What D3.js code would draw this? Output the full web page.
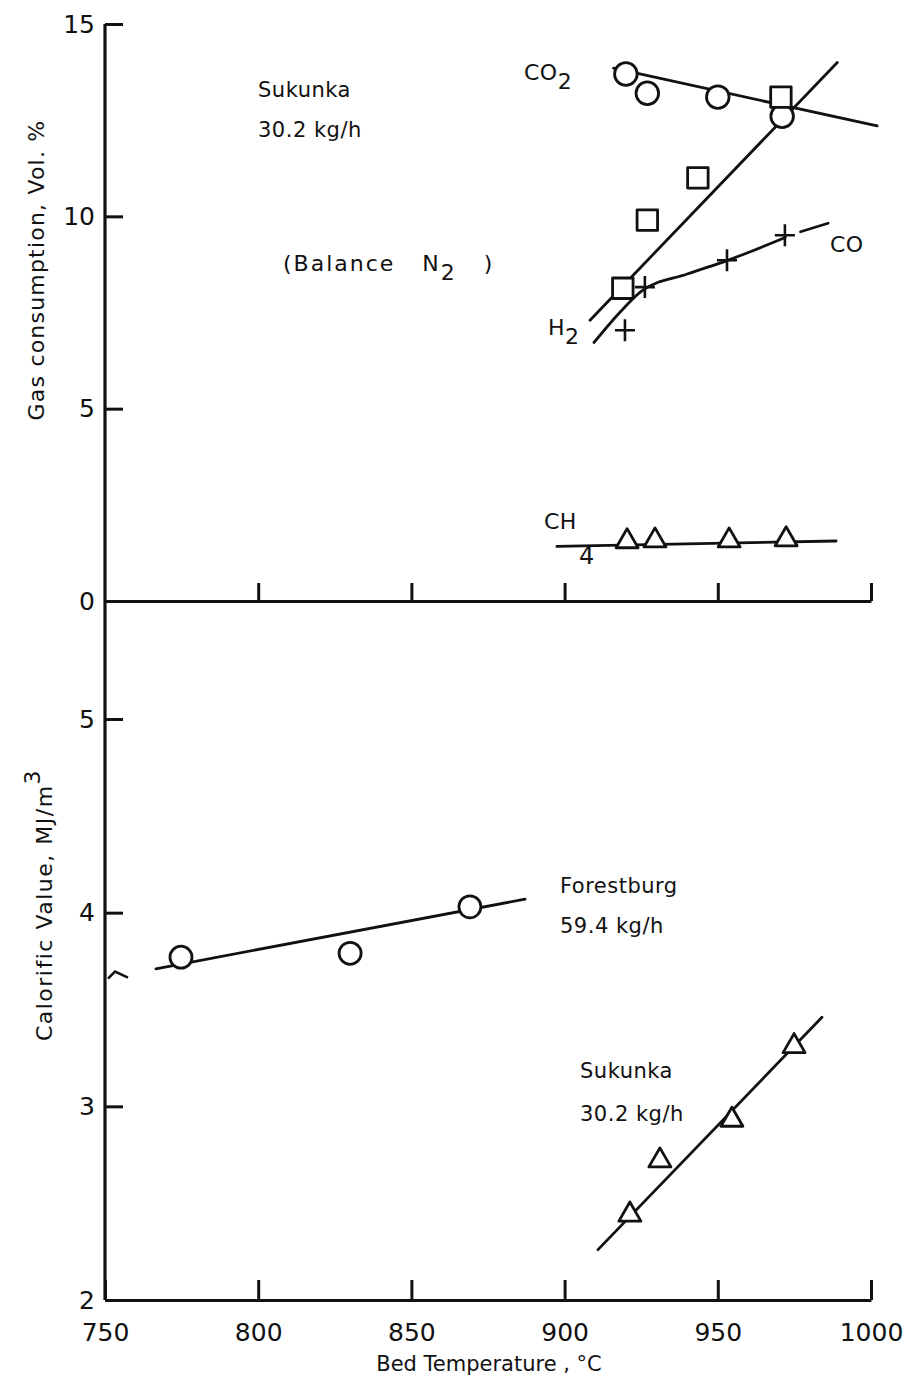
<!DOCTYPE html>
<html>
<head>
<meta charset="utf-8">
<script src="https://cdn.jsdelivr.net/npm/d3@7"></script>
<style>
  body { margin: 0; background: #fff; }
  text { font-family: "DejaVu Sans", sans-serif; fill: #111; }
</style>
</head>
<body>
<script>
// ---- data ----
// top panel: gas composition, vol.% vs bed temperature (Sukunka 30.2 kg/h)
var co2Points = [[920, 13.7], [927, 13.2], [950, 13.1], [971, 12.6]];
var co2Fit = [[916, 13.85], [1002, 12.35]];
var h2Points = [[919, 8.13], [927, 9.9], [943.5, 11.0], [970.6, 13.1]];
var h2Fit = [[908.3, 7.3], [989, 14.0]];
var coPoints = [[919.7, 7.04], [926.2, 8.16], [953, 8.86], [971.9, 9.51]];
var coFit = [[909.6, 6.72], [918, 7.5], [925, 8.05], [940, 8.5], [953, 8.85], [972, 9.45]];
var coFitTail = [[977, 9.6], [986, 9.82]];
var ch4Points = [[920.4, 1.55], [929.5, 1.57], [953.7, 1.57], [972.3, 1.6]];
var ch4Fit = [[897.5, 1.42], [988.6, 1.56]];

// bottom panel: calorific value MJ/m3
var forestPoints = [[774.8, 3.77], [830, 3.79], [869.1, 4.03]];
var forestFit = [[766.6, 3.71], [887.1, 4.07]];
var sukPoints = [[921.3, 2.44], [931.1, 2.72], [954.6, 2.93], [974.9, 3.31]];
var sukFit = [[910.9, 2.26], [984, 3.46]];

var xTicks = [750, 800, 850, 900, 950, 1000];
var topYTicks = [5, 10, 15];
var botYTicks = [2, 3, 4, 5];

var width = 915, height = 1380;

var svg = d3.select("body").append("svg")
  .attr("width", width)
  .attr("height", height);

// scales
var x = d3.scaleLinear().domain([750, 1000]).range([105, 871]);
var yTop = d3.scaleLinear().domain([0, 15]).range([601, 24]);
var yBot = d3.scaleLinear().domain([2, 5]).range([1300, 719]);

var ink = "#111";
var fmt = d3.format("d");

// main vertical axis through both panels
svg.append("line")
  .attr("x1", x(750)).attr("x2", x(750))
  .attr("y1", yTop(15)).attr("y2", yBot(2))
  .attr("stroke", ink).attr("stroke-width", 3.2);

// top panel y axis ticks
var topAxis = svg.append("g")
  .attr("transform", "translate(" + x(750) + ",0)")
  .call(d3.axisLeft(yTop).tickValues(topYTicks).tickFormat(fmt).tickSize(-18).tickSizeOuter(0).tickPadding(10));
// bottom panel y axis ticks
var botAxis = svg.append("g")
  .attr("transform", "translate(" + x(750) + ",0)")
  .call(d3.axisLeft(yBot).tickValues(botYTicks).tickFormat(fmt).tickSize(-18).tickSizeOuter(0).tickPadding(10));

// zero line of top panel, ticks pointing up
var zeroAxis = svg.append("g")
  .attr("transform", "translate(0," + yTop(0) + ")")
  .call(d3.axisBottom(x).tickValues([800, 850, 900, 950, 1000]).tickSize(-18).tickSizeOuter(0).tickFormat(""));

// bottom x axis
var xAxis = svg.append("g")
  .attr("transform", "translate(0," + yBot(2) + ")")
  .call(d3.axisBottom(x).tickValues(xTicks).tickFormat(fmt).tickSize(-20).tickSizeOuter(0).tickPadding(31));

[topAxis, botAxis, zeroAxis, xAxis].forEach(function(g) {
  g.select(".domain").attr("stroke", ink).attr("stroke-width", 3.2);
  g.selectAll(".tick line").attr("stroke", ink).attr("stroke-width", 3);
  g.selectAll(".tick text")
    .style("font-family", "DejaVu Sans, sans-serif")
    .style("font-size", "25px")
    .attr("fill", ink);
});
topAxis.select(".domain").remove();
botAxis.select(".domain").remove();
xAxis.selectAll(".tick text").attr("dy", "0.4em");
// 0 label of the top panel
svg.append("text")
  .attr("x", x(750) - 10).attr("y", yTop(0) + 9)
  .attr("text-anchor", "end")
  .style("font-size", "25px")
  .text("0");

// axis break mark on the lower axis
svg.append("path")
  .attr("d", "M" + (x(750) + 3) + "," + (yBot(3.66)) +
             " L" + (x(750) + 10) + "," + (yBot(3.66) - 7) +
             " L" + (x(750) + 23) + "," + (yBot(3.66) - 1))
  .attr("fill", "none").attr("stroke", ink).attr("stroke-width", 2.5);

// line generators
var lineTop = d3.line().x(function(d) { return x(d[0]); }).y(function(d) { return yTop(d[1]); });
var curveTop = d3.line().curve(d3.curveMonotoneX)
  .x(function(d) { return x(d[0]); }).y(function(d) { return yTop(d[1]); });
var lineBot = d3.line().x(function(d) { return x(d[0]); }).y(function(d) { return yBot(d[1]); });

function fitLine(data, gen) {
  svg.append("path")
    .attr("d", gen(data))
    .attr("fill", "none")
    .attr("stroke", ink)
    .attr("stroke-width", 2.8)
    .attr("stroke-linecap", "round");
}

fitLine(co2Fit, lineTop);
fitLine(h2Fit, lineTop);
fitLine(coFit, curveTop);
fitLine(coFitTail, lineTop);
fitLine(ch4Fit, lineTop);
fitLine(forestFit, lineBot);
fitLine(sukFit, lineBot);

// markers
function markers(data, yScale, type, size) {
  svg.selectAll(null)
    .data(data)
    .enter()
    .append("path")
    .attr("transform", function(d) { return "translate(" + x(d[0]) + "," + yScale(d[1]) + ")"; })
    .attr("d", d3.symbol().type(type).size(size))
    .attr("fill", "#fff")
    .attr("stroke", ink)
    .attr("stroke-width", 2.8)
    .attr("stroke-linejoin", "round");
}

markers(co2Points, yTop, d3.symbolCircle, 400);
markers(h2Points, yTop, d3.symbolSquare, 420);
markers(ch4Points, yTop, d3.symbolTriangle, 210);
markers(forestPoints, yBot, d3.symbolCircle, 380);
markers(sukPoints, yBot, d3.symbolTriangle, 210);

// CO crosses
svg.selectAll(null)
  .data(coPoints)
  .enter()
  .append("path")
  .attr("transform", function(d) { return "translate(" + x(d[0]) + "," + yTop(d[1]) + ")"; })
  .attr("d", "M-10,0 L10,0 M0,-11 L0,11")
  .attr("fill", "none")
  .attr("stroke", ink)
  .attr("stroke-width", 2.6);

// text labels
function label(tx, ty, str, size) {
  return svg.append("text")
    .attr("x", tx).attr("y", ty)
    .style("font-size", (size || 21) + "px")
    .style("letter-spacing", "0.5px")
    .style("white-space", "pre")
    .text(str);
}

label(258, 97, "Sukunka");
label(258, 137, "30.2 kg/h");
var bal = label(283, 271, "(Balance   N", 22).style("letter-spacing", "2px");
bal.append("tspan").attr("dy", 9).text("2");
bal.append("tspan").attr("dy", -9).text("   )");

var co2Lab = label(524, 80, "CO", 22);
co2Lab.append("tspan").attr("dy", 9).text("2");
label(830, 252, "CO", 22);
var h2Lab = label(548, 335, "H", 22);
h2Lab.append("tspan").attr("dy", 9).text("2");
var ch4Lab = label(544, 529, "CH", 22);
ch4Lab.append("tspan").attr("dx", 2).attr("dy", 35).style("font-size", "24px").text("4");

label(560, 893, "Forestburg");
label(560, 933, "59.4 kg/h");
label(580, 1078, "Sukunka");
label(580, 1121, "30.2 kg/h");

// axis titles
svg.append("text")
  .attr("transform", "translate(44,270) rotate(-90)")
  .attr("text-anchor", "middle")
  .style("font-size", "22px")
  .style("letter-spacing", "1.2px")
  .text("Gas consumption, Vol. %");

var cal = svg.append("text")
  .attr("transform", "translate(52,905) rotate(-90)")
  .attr("text-anchor", "middle")
  .style("font-size", "22px")
  .style("letter-spacing", "1.5px")
  .text("Calorific Value, MJ/m");
cal.append("tspan").attr("dy", -12).text("3");

svg.append("text")
  .attr("x", 489).attr("y", 1371)
  .attr("text-anchor", "middle")
  .style("font-size", "21px")
  .text("Bed Temperature , \u00B0C");
</script>
</body>
</html>
